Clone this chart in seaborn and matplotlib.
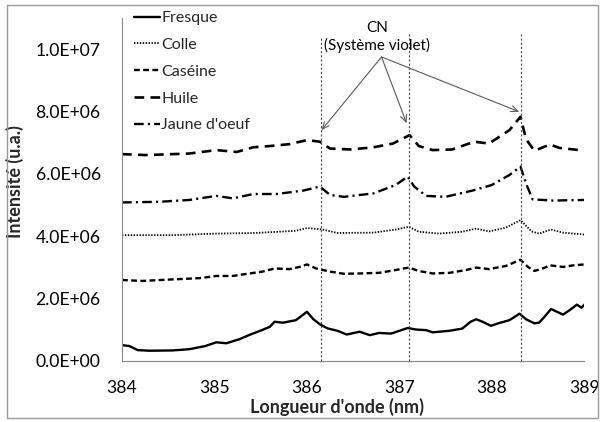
import numpy as np
import pandas as pd
import matplotlib
matplotlib.use("Agg")
import matplotlib.pyplot as plt
import seaborn as sns
from matplotlib.patches import Rectangle

# --- spectra (wavelength in nm, intensity in millions of a.u.) ---
fresque_nm = [384.0, 384.08, 384.17, 384.3, 384.55, 384.73, 384.9, 385.02, 385.13, 385.27,
              385.38, 385.52, 385.6, 385.65, 385.74, 385.88, 386.0, 386.07, 386.14, 386.22,
              386.33, 386.43, 386.57, 386.68, 386.78, 386.91, 387.0, 387.09, 387.18, 387.29,
              387.36, 387.54, 387.68, 387.77, 387.83, 387.9, 387.99, 388.08, 388.19, 388.3,
              388.37, 388.46, 388.51, 388.57, 388.64, 388.69, 388.77, 388.84, 388.92, 388.97, 389.0]
fresque_int = [0.50, 0.47, 0.34, 0.32, 0.33, 0.37, 0.47, 0.59, 0.56, 0.69,
               0.83, 0.99, 1.09, 1.25, 1.22, 1.30, 1.57, 1.33, 1.17, 1.04,
               0.96, 0.84, 0.93, 0.82, 0.89, 0.87, 0.96, 1.05, 1.00, 0.98,
               0.91, 0.96, 1.03, 1.25, 1.33, 1.25, 1.12, 1.21, 1.30, 1.51,
               1.33, 1.20, 1.22, 1.41, 1.66, 1.59, 1.48, 1.62, 1.80, 1.70, 1.80]

colle_nm = [384.0, 384.55, 385.02, 385.45, 385.88, 386.0, 386.17, 386.33, 386.72, 386.96,
            387.1, 387.21, 387.43, 387.68, 387.83, 387.97, 388.15, 388.31, 388.43, 388.51,
            388.64, 388.77, 389.0]
colle_int = [4.03, 4.03, 4.08, 4.10, 4.17, 4.26, 4.21, 4.10, 4.11, 4.21,
             4.30, 4.14, 4.08, 4.14, 4.24, 4.15, 4.27, 4.51, 4.15, 4.08,
             4.21, 4.11, 4.05]

caseine_nm = [384.0, 384.22, 384.55, 384.84, 385.02, 385.2, 385.38, 385.52, 385.65, 385.81,
              385.92, 386.0, 386.1, 386.25, 386.4, 386.57, 386.78, 386.96, 387.1, 387.21,
              387.36, 387.54, 387.72, 387.83, 387.97, 388.15, 388.31, 388.39, 388.46, 388.55,
              388.63, 388.77, 388.88, 389.0]
caseine_int = [2.59, 2.56, 2.61, 2.65, 2.72, 2.72, 2.80, 2.86, 2.96, 2.94,
               3.01, 3.09, 2.96, 2.86, 2.79, 2.80, 2.82, 2.91, 2.99, 2.88,
               2.80, 2.82, 2.91, 2.99, 2.94, 3.04, 3.24, 3.01, 2.88, 2.96,
               3.06, 3.01, 3.06, 3.09]

huile_nm = [384.0, 384.26, 384.73, 385.02, 385.24, 385.42, 385.6, 385.81, 386.0, 386.14,
            386.25, 386.47, 386.72, 386.93, 387.11, 387.21, 387.36, 387.57, 387.81, 387.97,
            388.19, 388.31, 388.37, 388.46, 388.63, 388.73, 388.95, 389.0]
huile_int = [6.63, 6.60, 6.65, 6.76, 6.70, 6.85, 6.89, 6.95, 7.08, 7.03,
             6.81, 6.78, 6.85, 6.97, 7.24, 6.89, 6.76, 6.78, 7.03, 6.97,
             7.40, 7.83, 7.11, 6.74, 6.94, 6.83, 6.76, 6.75]

jaune_nm = [384.0, 384.4, 384.73, 385.02, 385.2, 385.42, 385.67, 385.96, 386.14, 386.25,
            386.4, 386.72, 386.96, 387.09, 387.16, 387.29, 387.5, 387.79, 388.0, 388.19,
            388.31, 388.37, 388.44, 388.66, 389.0]
jaune_int = [5.08, 5.10, 5.16, 5.29, 5.21, 5.35, 5.35, 5.46, 5.59, 5.32,
             5.26, 5.37, 5.64, 5.91, 5.59, 5.29, 5.26, 5.46, 5.64, 5.96,
             6.23, 5.69, 5.18, 5.14, 5.16]

series_names = ["Fresque", "Colle", "Caséine", "Huile", "Jaune d'oeuf"]

# CN violet-system band heads (nm)
cn_heads = [386.15, 387.10, 388.32]

x_ticks = [384, 385, 386, 387, 388, 389]
y_ticks = [0, 2e6, 4e6, 6e6, 8e6, 1e7]
y_tick_labels = ["0.0E+00", "2.0E+06", "4.0E+06", "6.0E+06", "8.0E+06", "1.0E+07"]

frames = []
for name, nm, val in zip(series_names,
                         [fresque_nm, colle_nm, caseine_nm, huile_nm, jaune_nm],
                         [fresque_int, colle_int, caseine_int, huile_int, jaune_int]):
    frames.append(pd.DataFrame({"nm": nm, "intensity": np.array(val) * 1e6, "sample": name}))
df = pd.concat(frames, ignore_index=True)

sns.set_style("white")
plt.rcParams["font.family"] = ["Lato", "DejaVu Sans"]
plt.rcParams["lines.scale_dashes"] = False

fig = plt.figure(figsize=(6.05, 4.22), dpi=100)
ax = fig.add_axes([122 / 605, 1 - 360.7 / 422, (584.3 - 122) / 605, (360.7 - 18) / 422])

styles = {
    "Fresque": dict(linestyle="-", lw=1.7),
    "Colle": dict(linestyle=(0, (1.0, 1.1)), lw=1.3),
    "Caséine": dict(linestyle=(0, (4.2, 2.4)), lw=1.7),
    "Huile": dict(linestyle=(0, (7.0, 4.5)), lw=1.9),
    "Jaune d'oeuf": dict(linestyle=(0, (7.0, 3.0, 1.5, 3.0)), lw=1.7),
}
for name in series_names:
    sub = df[df["sample"] == name]
    sns.lineplot(data=sub, x="nm", y="intensity", ax=ax, color="black",
                 label=name, estimator=None, sort=False, **styles[name])

# band-head markers
for xh, top in zip(cn_heads, [1.04e7, 1.05e7, 1.05e7]):
    ax.plot([xh, xh], [0, top], color="#404040", lw=0.8, linestyle=(0, (1.5, 1.5)))

ax.text(386.755, 1.039e7, "CN\n(Système violet)", ha="center", va="center",
        fontsize=11, linespacing=1.3, color="black")
origin = (386.807, 9.75e6)
for tip in [(386.158, 7.40e6), (387.078, 7.62e6), (388.296, 7.99e6)]:
    ax.annotate("", xy=tip, xytext=origin,
                arrowprops=dict(arrowstyle="->,head_length=0.5,head_width=0.22",
                                color="#595959", lw=0.8, shrinkA=0, shrinkB=0))

ax.set_xlim(384, 389)
ax.set_ylim(0, 1.1e7)
ax.set_xticks(x_ticks)
ax.set_xticklabels([str(t) for t in x_ticks])
ax.set_yticks(y_ticks)
ax.set_yticklabels(y_tick_labels)

for side in ["top", "right"]:
    ax.spines[side].set_visible(False)
for side in ["left", "bottom"]:
    ax.spines[side].set_color("#868686")
    ax.spines[side].set_linewidth(0.8)
ax.tick_params(axis="both", direction="out", length=4.3, width=0.8, color="#868686",
               labelsize=12.6, labelcolor="black")
ax.tick_params(axis="y", pad=11)
ax.tick_params(axis="x", pad=9.5)

ax.set_xlabel("Longueur d'onde (nm)", fontsize=13, fontweight="bold")
ax.set_ylabel("Intensité (u.a.)", fontsize=13, fontweight="bold")
ax.xaxis.set_label_coords((336.6 - 122) / (584.3 - 122), -(407 - 360.7) / (360.7 - 18))
ax.yaxis.set_label_coords(-(122 - 15) / (584.3 - 122), (360.7 - 182) / (360.7 - 18))
ax.xaxis.label.set_va("center")
ax.yaxis.label.set_va("center")

leg = ax.legend(loc="upper left", bbox_to_anchor=(134 / 605, 1 - 11 / 422),
                bbox_transform=fig.transFigure, frameon=False, fontsize=11.5,
                handlelength=1.6, handletextpad=0.1, labelspacing=0.79,
                borderaxespad=0, borderpad=0)

fig.patches.append(Rectangle((7 / 605, 1 - 418 / 422), (598 - 7) / 605, (418 - 5) / 422,
                             transform=fig.transFigure, fill=False,
                             edgecolor="#9a9a9a", lw=1.0))

fig.savefig("out.png", dpi=100)
